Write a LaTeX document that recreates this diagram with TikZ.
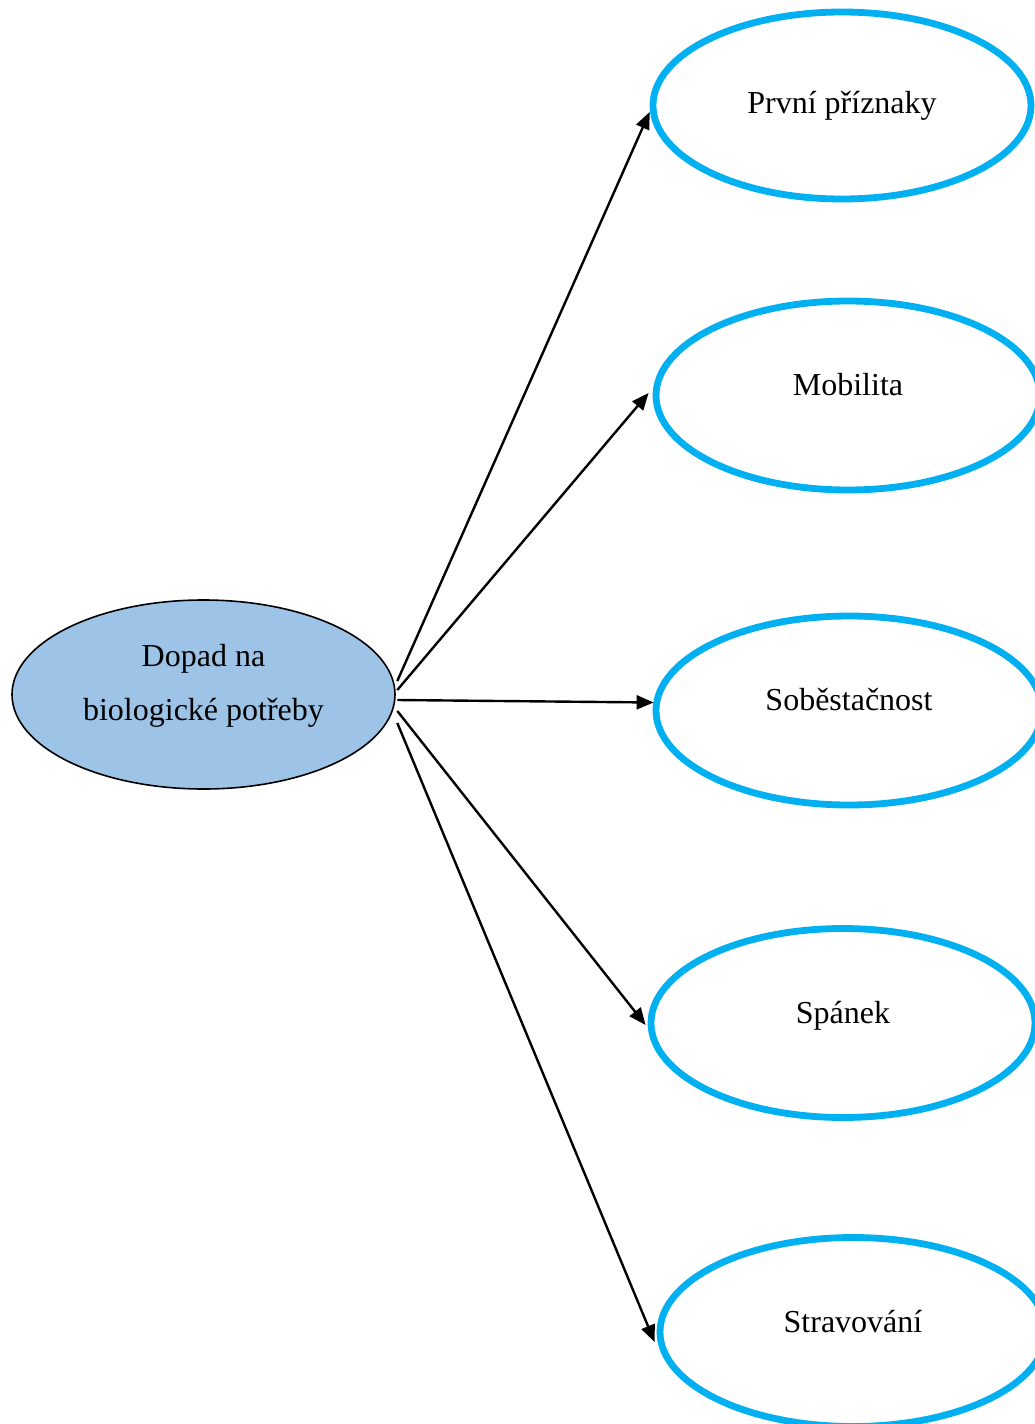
\documentclass[tikz,border=0pt]{standalone}
\usepackage{fontspec}
\setmainfont{Liberation Serif}
\usetikzlibrary{shapes.geometric,arrows.meta,calc}
\definecolor{srcfill}{HTML}{9DC3E6}
\definecolor{ringblue}{HTML}{00B0F0}
\begin{document}
\begin{tikzpicture}[x=1pt,y=-1pt,
  every node/.style={font=\fontsize{32}{54}\selectfont},
  srcnode/.style={ellipse,draw=black,line width=1.6pt,fill=srcfill,inner sep=0pt,
    minimum width=383pt,minimum height=189pt},
  ring/.style={ellipse,draw=ringblue,line width=6.8pt,fill=white,inner sep=0pt,
    minimum height=189pt,text height=0pt,text depth=0pt},
  txt/.style={anchor=base,inner sep=0pt},
  link/.style={line width=2.4pt,-{Triangle[length=17pt,width=14pt]}}]
\clip (0,0) rectangle (1035,1424);
\fill[white] (0,0) rectangle (1035,1424);
% source
\node[srcnode] (src) at (203.5,694.5) {};
\node[txt] (srcA) at ($(src.center)+(0,-28.5)$) {Dopad na};
\node[txt] (srcB) at ($(src.center)+(0,25.5)$) {biologické potřeby};
% targets
\node[ring,minimum width=378pt,minimum height=187pt] (n1) at (842,105.5) {\raisebox{-7.5pt}{První příznaky}};
\node[ring,minimum width=384pt] (n2) at (848,395.5) {Mobilita};
\node[ring,minimum width=386pt] (n3) at (849,710.5) {Soběstačnost};
\node[ring,minimum width=384pt] (n4) at (843,1023) {Spánek};
\node[ring,minimum width=386pt] (n5) at (853,1332) {Stravování};
% connectors
\draw[link] ($(src.east)+(1.5,-13.5)$) -- ($(n1.west)+(0,6.5)$);
\draw[link] ($(src.east)+(1.5,-4.5)$) -- ($(n2.west)+(-4,-2.5)$);
\draw[link] ($(src.east)+(1.5,5.5)$) -- ($(n3.west)+(1,-8)$);
\draw[link] ($(src.east)+(1.5,16.5)$) -- ($(n4.west)+(-2,2)$);
\draw[link] ($(src.east)+(1.5,28.5)$) -- ($(n5.west)+(-2,10)$);
\end{tikzpicture}
\end{document}
